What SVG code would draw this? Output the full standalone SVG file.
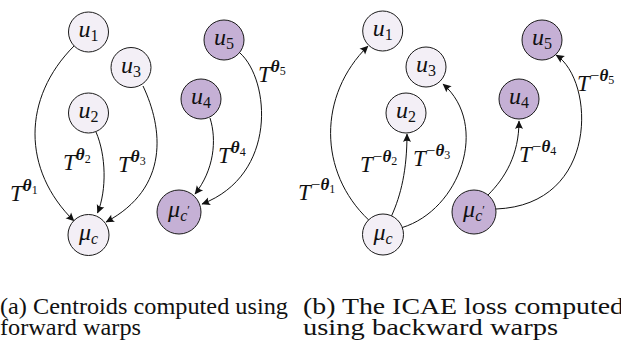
<svg xmlns="http://www.w3.org/2000/svg" width="621" height="352" viewBox="0 0 621 352">
<style>
  .nl circle { fill: #f3eff6; stroke: #1a1a1a; stroke-width: 1; }
  .nd circle { fill: #c5b0d5; stroke: #1a1a1a; stroke-width: 1; }
  text { font-family: "Liberation Serif", "Times New Roman", serif; fill: #111; }
  .nt { font-size: 24px; font-style: italic; }
  .lab { font-size: 23px; font-style: italic; }
  .sub { font-size: 16px; font-style: normal; }
  .isub { font-size: 16px; font-style: italic; }
  .pr { font-size: 12px; font-style: normal; }
  .sup { font-size: 17px; font-weight: bold; font-style: italic; }
  .mn { font-weight: normal; font-style: normal; }
  .ssub { font-size: 12px; font-weight: normal; font-style: normal; }
  .edge { fill: none; stroke: #111; stroke-width: 1; marker-end: url(#arr); }
  .cap { font-size: 23px; }
</style>
<defs>
  <marker id="arr" viewBox="-10 -6 12 12" refX="0" refY="0" markerWidth="12" markerHeight="12" markerUnits="userSpaceOnUse" orient="auto">
    <path d="M0.5,0 L-8,-4 Q-5.5,0 -8,4 Z" fill="#111"/>
  </marker>
</defs>

<g id="connectors">
  <path class="edge" d="M74 46 C22 98, 22 170, 74 221"/>
  <path class="edge" d="M96 132 C106 155, 107 190, 97.5 213"/>
  <path class="edge" d="M143 86 C163 128, 170 188, 106 222"/>
  <path class="edge" d="M210 118 C217 140, 214 170, 195 194"/>
  <path class="edge" d="M240 53 C270 80, 278 175, 202 204"/>
  <path class="edge" d="M368.7 220 C318 172, 318 95, 368 46"/>
  <path class="edge" d="M391.5 216 C401 195, 407 170, 407 134"/>
  <path class="edge" d="M402 227.6 C460 210, 490 125, 443 84"/>
  <path class="edge" d="M488 195 C505 178, 519 155, 519 121"/>
  <path class="edge" d="M496 209 C600 205, 595 80, 556 55"/>
</g>

<g id="a_u1" class="nl"><circle cx="88.5" cy="32" r="20"/><text class="nt" x="88.5" y="37" text-anchor="middle">u<tspan class="sub" dy="4">1</tspan></text></g>
<g id="a_u3" class="nl"><circle cx="131" cy="67.5" r="20"/><text class="nt" x="131" y="72.5" text-anchor="middle">u<tspan class="sub" dy="4">3</tspan></text></g>
<g id="a_u2" class="nl"><circle cx="88.5" cy="113" r="20"/><text class="nt" x="88.5" y="118" text-anchor="middle">u<tspan class="sub" dy="4">2</tspan></text></g>
<g id="a_muc" class="nl"><circle cx="88.5" cy="235" r="20.5"/><text class="nt" x="88.5" y="240" text-anchor="middle">μ<tspan class="isub" dy="4">c</tspan></text></g>
<g id="a_u5" class="nd"><circle cx="224" cy="40" r="20"/><text class="nt" x="224" y="45" text-anchor="middle">u<tspan class="sub" dy="4">5</tspan></text></g>
<g id="a_u4" class="nd"><circle cx="201" cy="99" r="20"/><text class="nt" x="201" y="104" text-anchor="middle">u<tspan class="sub" dy="4">4</tspan></text></g>
<g id="a_mucp" class="nd"><circle cx="179" cy="212" r="22"/><text class="nt" x="179" y="217" text-anchor="middle">μ<tspan class="isub" dy="4">c</tspan><tspan class="pr" dy="-7">′</tspan></text></g>

<g id="b_u1" class="nl"><circle cx="382.7" cy="31" r="20"/><text class="nt" x="382.7" y="36" text-anchor="middle">u<tspan class="sub" dy="4">1</tspan></text></g>
<g id="b_u3" class="nl"><circle cx="426" cy="67" r="20"/><text class="nt" x="426" y="72" text-anchor="middle">u<tspan class="sub" dy="4">3</tspan></text></g>
<g id="b_u2" class="nl"><circle cx="406" cy="113" r="20"/><text class="nt" x="406" y="118" text-anchor="middle">u<tspan class="sub" dy="4">2</tspan></text></g>
<g id="b_muc" class="nl"><circle cx="383" cy="234.5" r="20.5"/><text class="nt" x="383" y="239.5" text-anchor="middle">μ<tspan class="isub" dy="4">c</tspan></text></g>
<g id="b_u5" class="nd"><circle cx="542" cy="40" r="20"/><text class="nt" x="542" y="45" text-anchor="middle">u<tspan class="sub" dy="4">5</tspan></text></g>
<g id="b_u4" class="nd"><circle cx="519" cy="99" r="20"/><text class="nt" x="519" y="104" text-anchor="middle">u<tspan class="sub" dy="4">4</tspan></text></g>
<g id="b_mucp" class="nd"><circle cx="474" cy="212" r="22"/><text class="nt" x="474" y="217" text-anchor="middle">μ<tspan class="isub" dy="4">c</tspan><tspan class="pr" dy="-7">′</tspan></text></g>

<g id="edge_labels">
  <text class="lab" x="10" y="201">T<tspan class="sup" dy="-10">θ</tspan><tspan class="ssub" dy="3">1</tspan></text>
  <text class="lab" x="63" y="170">T<tspan class="sup" dy="-10">θ</tspan><tspan class="ssub" dy="3">2</tspan></text>
  <text class="lab" x="118" y="172">T<tspan class="sup" dy="-10">θ</tspan><tspan class="ssub" dy="3">3</tspan></text>
  <text class="lab" x="218" y="163">T<tspan class="sup" dy="-10">θ</tspan><tspan class="ssub" dy="3">4</tspan></text>
  <text class="lab" x="258" y="82">T<tspan class="sup" dy="-10">θ</tspan><tspan class="ssub" dy="3">5</tspan></text>

  <text class="lab" x="298" y="200">T<tspan class="sup" dy="-10"><tspan class="mn">−</tspan>θ</tspan><tspan class="ssub" dy="3">1</tspan></text>
  <text class="lab" x="360" y="172">T<tspan class="sup" dy="-10"><tspan class="mn">−</tspan>θ</tspan><tspan class="ssub" dy="3">2</tspan></text>
  <text class="lab" x="413" y="166">T<tspan class="sup" dy="-10"><tspan class="mn">−</tspan>θ</tspan><tspan class="ssub" dy="3">3</tspan></text>
  <text class="lab" x="519" y="162">T<tspan class="sup" dy="-10"><tspan class="mn">−</tspan>θ</tspan><tspan class="ssub" dy="3">4</tspan></text>
  <text class="lab" x="577" y="91">T<tspan class="sup" dy="-10"><tspan class="mn">−</tspan>θ</tspan><tspan class="ssub" dy="3">5</tspan></text>
</g>

<g id="captions">
  <text class="cap" x="0" y="314" textLength="288" lengthAdjust="spacingAndGlyphs">(a) Centroids computed using</text>
  <text class="cap" x="0" y="335" textLength="141" lengthAdjust="spacingAndGlyphs">forward warps</text>
  <text class="cap" x="303" y="314" textLength="321" lengthAdjust="spacingAndGlyphs">(b) The ICAE loss computed</text>
  <text class="cap" x="303" y="335" textLength="255" lengthAdjust="spacingAndGlyphs">using backward warps</text>
</g>
</svg>
